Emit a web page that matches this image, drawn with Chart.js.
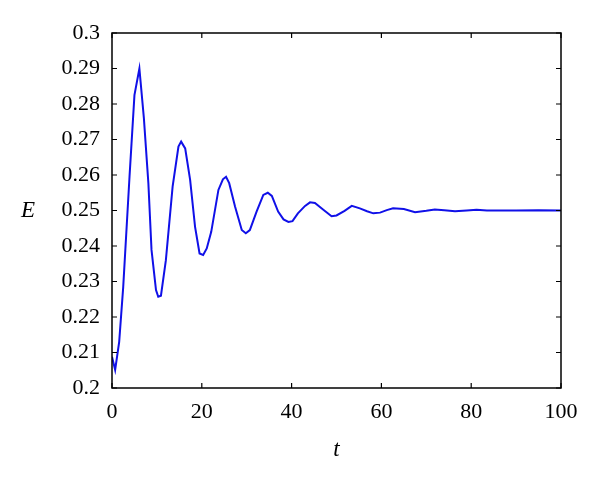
<!DOCTYPE html>
<html>
<head>
<meta charset="utf-8">
<script src="https://cdn.jsdelivr.net/npm/chart.js@4"></script>
<style>
  html, body { margin: 0; padding: 0; background: #fff; }
  #wrap { width: 600px; height: 484px; }
</style>
</head>
<body>
<div id="wrap"><canvas id="energyChart"></canvas></div>
<script>
// values
const tValues = [0, 0.7, 1.6, 2.5, 3.9, 5.0, 6.1, 7.1, 8.1, 8.8,
  9.8, 10.3, 10.9, 12.0, 13.5, 14.8, 15.4, 16.3, 17.4, 18.5,
  19.5, 20.3, 21.1, 22.1, 23.7, 24.7, 25.4, 26.1, 27.4, 28.9,
  29.8, 30.7, 32.2, 33.7, 34.7, 35.6, 37.0, 38.2, 39.3, 40.2,
  41.4, 43.0, 44.1, 45.2, 47.0, 48.9, 50.0, 51.8, 53.4, 55.2,
  56.8, 58.2, 59.7, 61.2, 62.6, 65.0, 67.5, 70.0, 71.9, 74.0,
  76.4, 79.0, 81.2, 83.5, 85.7, 90, 95, 100];
const eValues = [0.2088, 0.2051, 0.213, 0.2285, 0.2595, 0.2825, 0.290, 0.276, 0.2577, 0.2389,
  0.2276, 0.2257, 0.226, 0.236, 0.2567, 0.268, 0.2694, 0.2675, 0.2586, 0.2454,
  0.2379, 0.2375, 0.2393, 0.244, 0.2558, 0.2588, 0.2595, 0.2577, 0.2511, 0.2445,
  0.2436, 0.2445, 0.2497, 0.2544, 0.2550, 0.2541, 0.2497, 0.2475, 0.2468, 0.247,
  0.2492, 0.2513, 0.2523, 0.2521, 0.2503, 0.2484, 0.2486, 0.2499, 0.2513, 0.2506,
  0.2498, 0.2492, 0.2494, 0.2501, 0.2506, 0.2504, 0.2495, 0.2499, 0.2503, 0.2501,
  0.2498, 0.2500, 0.2502, 0.2500, 0.2500, 0.2500, 0.2501, 0.2500];
const xTicks = [0, 20, 40, 60, 80, 100];
const yTicks = [0.2, 0.21, 0.22, 0.23, 0.24, 0.25, 0.26, 0.27, 0.28, 0.29, 0.3];

const points = tValues.map((t, i) => ({ x: t, y: eValues[i] }));
const serif = "'Liberation Serif', 'DejaVu Serif', serif";

// matlab style box with inward ticks, plus the two axis names
const boxPlugin = {
  id: 'box',
  afterDraw(chart) {
    const { ctx, chartArea: a, scales: { x, y } } = chart;
    ctx.save();
    ctx.strokeStyle = '#000';
    ctx.lineWidth = 1.5;
    ctx.strokeRect(a.left, a.top, a.right - a.left, a.bottom - a.top);
    ctx.lineWidth = 1.2;
    ctx.beginPath();
    xTicks.forEach(v => {
      const px = x.getPixelForValue(v);
      ctx.moveTo(px, a.bottom); ctx.lineTo(px, a.bottom - 5);
      ctx.moveTo(px, a.top); ctx.lineTo(px, a.top + 5);
    });
    yTicks.forEach(v => {
      const py = y.getPixelForValue(v);
      ctx.moveTo(a.left, py); ctx.lineTo(a.left + 5, py);
      ctx.moveTo(a.right, py); ctx.lineTo(a.right - 5, py);
    });
    ctx.stroke();
    ctx.fillStyle = '#000';
    ctx.font = "italic 23px " + serif;
    ctx.textAlign = 'center';
    ctx.textBaseline = 'middle';
    ctx.fillText('t', (a.left + a.right) / 2, 450);
    ctx.fillText('E', 28, y.getPixelForValue(0.25));
    ctx.restore();
  }
};

new Chart(document.getElementById('energyChart'), {
  type: 'line',
  data: {
    datasets: [{
      data: points,
      borderColor: '#1010e8',
      borderWidth: 2,
      pointRadius: 0,
      tension: 0,
      fill: false
    }]
  },
  options: {
    responsive: true,
    maintainAspectRatio: false,
    animation: false,
    layout: { padding: { top: 33, right: 39, bottom: 0, left: 0 } },
    plugins: { legend: { display: false }, tooltip: { enabled: false } },
    scales: {
      x: {
        type: 'linear',
        min: 0,
        max: 100,
        afterBuildTicks: s => { s.ticks = xTicks.map(v => ({ value: v })); },
        afterFit: s => { s.height = 96; },
        grid: { display: false, drawTicks: false },
        border: { display: false },
        ticks: {
          color: '#000',
          padding: 11,
          maxRotation: 0,
          font: { family: serif, size: 22 },
          callback: v => String(v)
        }
      },
      y: {
        min: 0.2,
        max: 0.3,
        afterBuildTicks: s => { s.ticks = yTicks.map(v => ({ value: v })); },
        afterFit: s => { s.width = 112; },
        grid: { display: false, drawTicks: false },
        border: { display: false },
        ticks: {
          color: '#000',
          padding: 12,
          font: { family: serif, size: 22 },
          callback: v => String(+v.toFixed(2))
        }
      }
    }
  },
  plugins: [boxPlugin]
});
</script>
</body>
</html>
